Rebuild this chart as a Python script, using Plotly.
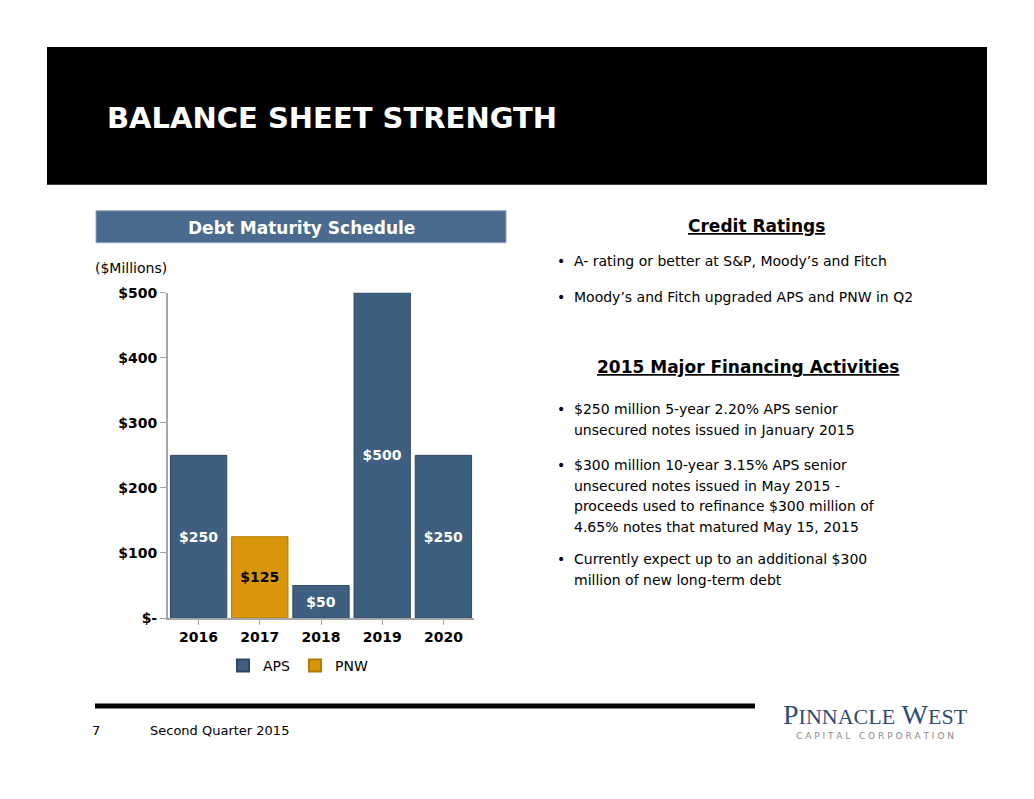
import plotly.graph_objects as go

years = ["2016", "2017", "2018", "2019", "2020"]
aps = [250, None, 50, 500, 250]
pnw = [None, 125, None, None, None]
ytick_vals = [0, 100, 200, 300, 400, 500]
ytick_text = ["$-", "$100", "$200", "$300", "$400", "$500"]

W, H = 1034, 799
def px(x): return x / W
def py(y): return 1 - ((y - 7.9) / 0.9816) / H

F = "DejaVu Sans"
fig = go.Figure()
fig.add_bar(x=years, y=aps, name="APS", marker=dict(color="#3F5F80", line=dict(color="#2d4763", width=1)),
            text=[f"<b>${v}</b>" if v else "" for v in aps], textposition="inside", insidetextanchor="middle",
            textfont=dict(color="white", size=14, family=F), textangle=0)
fig.add_bar(x=years, y=pnw, name="PNW", marker=dict(color="#D9960A", line=dict(color="#b07a05", width=1)),
            text=[f"<b>${v}</b>" if v else "" for v in pnw], textposition="inside", insidetextanchor="middle",
            textfont=dict(color="black", size=14, family=F), textangle=0)

shapes = [
    dict(type="rect", xref="paper", yref="paper", x0=px(47), x1=px(987), y0=py(185), y1=py(47),
         fillcolor="black", line=dict(width=0), layer="below"),
    dict(type="rect", xref="paper", yref="paper", x0=px(96), x1=px(506), y0=py(243), y1=py(211),
         fillcolor="#4A6A8E", line=dict(color="#8FA6C0", width=1), layer="below"),
    dict(type="line", xref="paper", yref="paper", x0=px(95), x1=px(755), y0=py(707), y1=py(707),
         line=dict(color="black", width=5)),
]
ann = []
def t(x, y, s, size=15, color="black", bold=False, anchor="left", fam=F):
    ann.append(dict(xref="paper", yref="paper", x=px(x), y=py(y), text=(f"<b>{s}</b>" if bold else s),
                    showarrow=False, xanchor=anchor, yanchor="middle", align="left",
                    font=dict(size=size, color=color, family=fam)))
t(105, 118, "BALANCE SHEET STRENGTH", 29, "white", True)
t(301, 228, "Debt Maturity Schedule", 17, "white", True, "center")
t(93, 268, "($Millions)", 14)
t(756, 226, "<u>Credit Ratings</u>", 17, bold=True, anchor="center")
t(555, 261, "•", 14); t(572, 261, "A- rating or better at S&P, Moody’s and Fitch", 14)
t(555, 297, "•", 14); t(572, 297, "Moody’s and Fitch upgraded APS and PNW in Q2", 14)
t(748, 367, "<u>2015 Major Financing Activities</u>", 17, bold=True, anchor="center")
bul = [(410, ["$250 million 5-year 2.20% APS senior", "unsecured notes issued in January 2015"]),
       (466, ["$300 million 10-year 3.15% APS senior", "unsecured notes issued in May 2015 -",
              "proceeds used to refinance $300 million of", "4.65% notes that matured May 15, 2015"]),
       (560, ["Currently expect up to an additional $300", "million of new long-term debt"])]
for y0, lines in bul:
    t(555, y0, "•", 14)
    for i, l in enumerate(lines):
        t(572, y0 + i * 20.5, l, 14)
t(90, 732, "7", 13); t(148, 732, "Second Quarter 2015", 13)
t(875, 716, "P<span style='font-size:22px'>INNACLE</span> W<span style='font-size:22px'>EST</span>", 28, "#2F4D75", anchor="center", fam="Liberation Serif")
t(875, 737, "C A P I T A L   C O R P O R A T I O N", 9, "#8a8a8a", anchor="center")

fig.update_layout(
    width=W, height=H, margin=dict(l=0, r=0, t=0, b=0), paper_bgcolor="white", plot_bgcolor="white",
    barmode="relative", bargap=0.08, shapes=shapes, annotations=ann, font=dict(family=F, color="black"),
    xaxis=dict(domain=[px(168), px(474)], showline=True, linecolor="#A6A6A6", linewidth=2, ticks="outside",
               tickcolor="#A6A6A6", ticklen=5, tickfont=dict(size=14, color="black", family=F), tickprefix="<b>", ticksuffix="</b>"),
    yaxis=dict(domain=[py(619), py(293)], range=[0, 500], tickvals=ytick_vals, ticktext=[f"<b>{s}</b>" for s in ytick_text],
               showline=True, linecolor="#A6A6A6", linewidth=2, ticks="outside", tickcolor="#A6A6A6", ticklen=6,
               showgrid=False, zeroline=False, tickfont=dict(size=14, color="black", family=F)),
    legend=dict(orientation="h", x=px(298), xanchor="center", y=py(667), yanchor="middle",
                font=dict(size=14, family=F, color="black"), itemwidth=30, traceorder="normal",
                tracegroupgap=0, itemsizing="constant"),
)
fig.write_html("out.html", config={"displayModeBar": False})
with open("out.html", encoding="utf-8") as f:
    html = f.read()
html = html.replace("<body>", "<body style=\"margin:0;overflow:hidden\">", 1)
with open("out.html", "w", encoding="utf-8") as f:
    f.write(html)
